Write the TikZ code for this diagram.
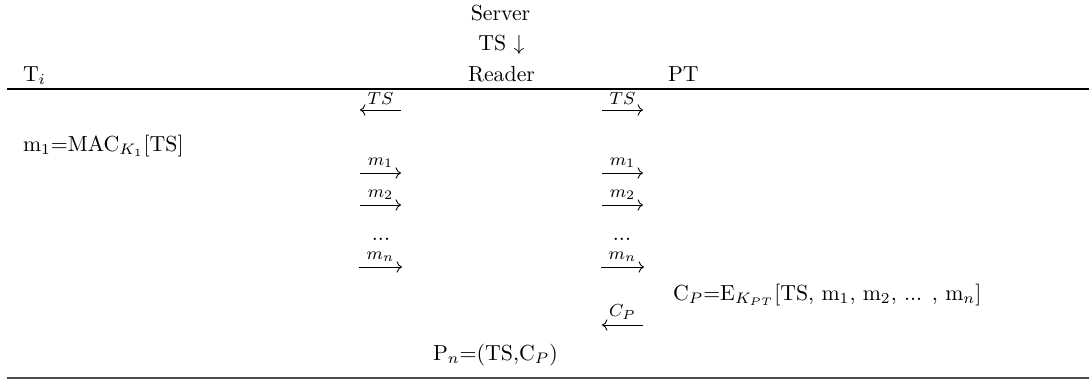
\documentclass[tikz,border=0pt]{standalone}
\usetikzlibrary{arrows.meta}
\begin{document}
\begin{tikzpicture}[x=0.4587pt,y=-0.4587pt,
  txt/.style={inner sep=0pt,outer sep=0pt,font=\fontsize{10}{12}\selectfont},
  lbl/.style={inner sep=0pt,outer sep=0pt,anchor=south,yshift=2.4pt,font=\fontsize{12}{14}\selectfont},
  msg/.style={line width=0.4pt,-{Computer Modern Rightarrow}},
  toprule/.style={line width=0.6pt},
  botrule/.style={line width=0.5pt,black!70}]
\useasboundingbox (0,0) rectangle (1089,381);
% header
\node[txt,anchor=base] (server) at (500.5,20) {Server};
\node[txt,anchor=base] (tsdown) at (501.5,50) {TS $\downarrow$};
\node[txt,anchor=base west] (ti) at (23,81) {T$_i$};
\node[txt,anchor=base] (reader) at (501.5,81) {Reader};
\node[txt,anchor=base west] (pt) at (668,81) {PT};
\coordinate (tl) at (7,89); \coordinate (tr) at (1089,89);
\draw[toprule] (tl) -- (tr);
% TS arrows
\coordinate (a1s) at (401,110); \coordinate (a1e) at (360,110);
\draw[msg] (a1s) -- node[lbl] (l1) {$\scriptstyle TS$} (a1e);
\coordinate (b1s) at (602,110); \coordinate (b1e) at (643,110);
\draw[msg] (b1s) -- node[lbl] (k1) {$\scriptstyle TS$} (b1e);
% m1 = MAC
\node[txt,anchor=base west] (mac) at (23,151) {m$_1$=MAC$_{K_1}$[TS]};
% m1
\coordinate (a2s) at (360,173); \coordinate (a2e) at (401,173);
\draw[msg] (a2s) -- node[lbl] (l2) {$\scriptstyle m_1$} (a2e);
\coordinate (b2s) at (602,173); \coordinate (b2e) at (643,173);
\draw[msg] (b2s) -- node[lbl] (k2) {$\scriptstyle m_1$} (b2e);
% m2
\coordinate (a3s) at (360,205); \coordinate (a3e) at (401,205);
\draw[msg] (a3s) -- node[lbl] (l3) {$\scriptstyle m_2$} (a3e);
\coordinate (b3s) at (602,205); \coordinate (b3e) at (643,205);
\draw[msg] (b3s) -- node[lbl] (k3) {$\scriptstyle m_2$} (b3e);
% dots
\node[txt,anchor=base] (d1) at (381,240) {...};
\node[txt,anchor=base] (d2) at (622,240) {...};
% mn
\coordinate (a4s) at (359,267); \coordinate (a4e) at (402,267);
\draw[msg] (a4s) -- node[lbl] (l4) {$\scriptstyle m_n$} (a4e);
\coordinate (b4s) at (601,267); \coordinate (b4e) at (644,267);
\draw[msg] (b4s) -- node[lbl] (k4) {$\scriptstyle m_n$} (b4e);
% CP
\node[txt,anchor=base west] (cp) at (673,300) {C$_P$=E$_{K_{PT}}$[TS, m$_1$, m$_2$, ... , m$_n$]};
\coordinate (b5s) at (643,325); \coordinate (b5e) at (602,325);
\draw[msg] (b5s) -- node[lbl] (k5) {$\scriptstyle C_P$} (b5e);
% Pn
\node[txt,anchor=base west] (pn) at (433,360) {P$_n$=(TS,C$_P$)};
\coordinate (bl) at (7,378); \coordinate (br) at (1089,378);
\draw[botrule] (bl) -- (br);
\end{tikzpicture}
\end{document}
